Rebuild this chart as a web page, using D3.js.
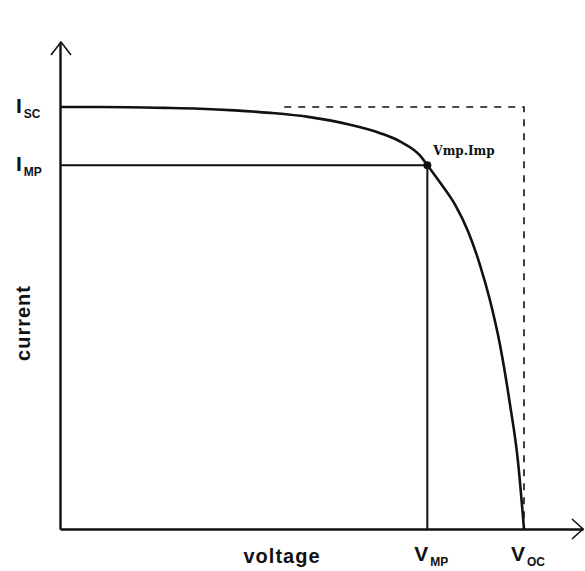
<!DOCTYPE html>
<html>
<head>
<meta charset="utf-8">
<script src="https://cdn.jsdelivr.net/npm/d3@7"></script>
<style>
  body { margin: 0; background: #fff; }
  svg { display: block; }
</style>
</head>
<body>
<div id="wrapper"></div>
<script>
// I-V curve (voltage in V, current in A, arbitrary cell)
const voltage = [0, 0.052, 0.136, 0.181, 0.226, 0.272, 0.323, 0.375, 0.414, 0.44, 0.466, 0.475, 0.491, 0.511, 0.528, 0.543, 0.556, 0.569, 0.582, 0.592, 0.6];
const current = [5.0, 5.0, 4.99, 4.98, 4.96, 4.93, 4.88, 4.79, 4.69, 4.59, 4.42, 4.31, 4.11, 3.84, 3.52, 3.13, 2.71, 2.18, 1.47, 0.82, 0];
const isc = 5.0;
const voc = 0.6;
const vmp = 0.475;
const imp = 4.31;
const pointLabels = ["Vmp.Imp"];
const axisLabels = ["voltage", "current"];

function drawChart() {
  const dataset = voltage.map((v, i) => ({ v: v, i: current[i] }));
  const xAccessor = (d) => d.v;
  const yAccessor = (d) => d.i;

  const dimensions = {
    width: 585,
    height: 571,
    margin: { top: 42, right: 2, bottom: 42, left: 60 },
  };
  dimensions.boundedWidth = dimensions.width - dimensions.margin.left - dimensions.margin.right;
  dimensions.boundedHeight = dimensions.height - dimensions.margin.top - dimensions.margin.bottom;

  const wrapper = d3.select("#wrapper")
    .append("svg")
    .attr("width", dimensions.width)
    .attr("height", dimensions.height);

  const bounds = wrapper.append("g")
    .attr("transform", `translate(${dimensions.margin.left},${dimensions.margin.top})`);

  // scales: axis ends run a bit past Voc and Isc
  const xScale = d3.scaleLinear()
    .domain([0, 0.6 * 523 / 464])
    .range([0, dimensions.boundedWidth]);
  const yScale = d3.scaleLinear()
    .domain([0, 5 * 487 / 422])
    .range([dimensions.boundedHeight, 0]);

  const ink = "#111";

  // guide lines to Isc / Voc
  bounds.append("path")
    .attr("d", `M${xScale(0.29)},${yScale(isc)}H${xScale(voc)}V${yScale(0)}`)
    .attr("fill", "none")
    .attr("stroke", ink)
    .attr("stroke-width", 1.6)
    .attr("stroke-dasharray", "7 7");

  // max power lines
  bounds.append("path")
    .attr("d", `M${xScale(0)},${yScale(imp)}H${xScale(vmp)}V${yScale(0)}`)
    .attr("fill", "none")
    .attr("stroke", ink)
    .attr("stroke-width", 2);

  // curve
  const lineGenerator = d3.line()
    .x((d) => xScale(xAccessor(d)))
    .y((d) => yScale(yAccessor(d)))
    .curve(d3.curveMonotoneX);

  bounds.append("path")
    .datum(dataset)
    .attr("d", lineGenerator)
    .attr("fill", "none")
    .attr("stroke", ink)
    .attr("stroke-width", 2.6);

  bounds.append("circle")
    .attr("cx", xScale(vmp))
    .attr("cy", yScale(imp))
    .attr("r", 4)
    .attr("fill", ink);

  bounds.append("text")
    .attr("x", xScale(vmp) + 6)
    .attr("y", yScale(imp) - 10)
    .text(pointLabels[0])
    .style("font-family", "'DejaVu Serif', serif")
    .style("font-weight", "bold")
    .style("font-size", "12px")
    .attr("fill", ink);

  // axes, drawn with d3 axes and no ticks
  const xAxis = bounds.append("g")
    .attr("transform", `translate(0,${dimensions.boundedHeight})`)
    .call(d3.axisBottom(xScale).tickValues([]).tickSizeOuter(0));
  const yAxis = bounds.append("g")
    .call(d3.axisLeft(yScale).tickValues([]).tickSizeOuter(0));
  [xAxis, yAxis].forEach((a) => a.select(".domain").attr("stroke", ink).attr("stroke-width", 2.4));

  // open arrow heads
  const xEnd = xScale.range()[1];
  const yEnd = yScale.range()[1];
  bounds.append("path")
    .attr("d", `M-9,${yEnd + 13}L1,${yEnd}L11,${yEnd + 13}`)
    .attr("fill", "none").attr("stroke", ink).attr("stroke-width", 1.6);
  bounds.append("path")
    .attr("d", `M${xEnd - 11},${dimensions.boundedHeight - 10}L${xEnd},${dimensions.boundedHeight}L${xEnd - 11},${dimensions.boundedHeight + 10}`)
    .attr("fill", "none").attr("stroke", ink).attr("stroke-width", 1.6);

  // subscripted labels
  function subLabel(x, y, main, sub, anchor) {
    const t = wrapper.append("text")
      .attr("x", x)
      .attr("y", y)
      .attr("text-anchor", anchor)
      .style("font-family", "'Liberation Sans', Arial, sans-serif")
      .style("font-weight", "bold")
      .attr("fill", ink);
    t.append("tspan").text(main).style("font-size", "21px");
    t.append("tspan").text(sub).attr("dy", 5).attr("dx", 2).style("font-size", "12px");
    return t;
  }
  const m = dimensions.margin;
  subLabel(16, m.top + yScale(isc) + 6, "I", "SC", "start");
  subLabel(16, m.top + yScale(imp) + 6, "I", "MP", "start");
  subLabel(m.left + xScale(vmp) + 4, 561, "V", "MP", "middle");
  subLabel(m.left + xScale(voc) + 4, 561, "V", "OC", "middle");

  wrapper.append("text")
    .attr("x", 282)
    .attr("y", 563)
    .attr("text-anchor", "middle")
    .text(axisLabels[0])
    .style("font-family", "'Liberation Sans', Arial, sans-serif")
    .style("font-weight", "bold")
    .style("font-size", "20px")
    .style("letter-spacing", "1px")
    .attr("fill", ink);

  wrapper.append("text")
    .attr("transform", "translate(30,323) rotate(-90)")
    .attr("text-anchor", "middle")
    .text(axisLabels[1])
    .style("font-family", "'Liberation Sans', Arial, sans-serif")
    .style("font-weight", "bold")
    .style("font-size", "20px")
    .style("letter-spacing", "1px")
    .attr("fill", ink);
}
drawChart();
</script>
</body>
</html>
